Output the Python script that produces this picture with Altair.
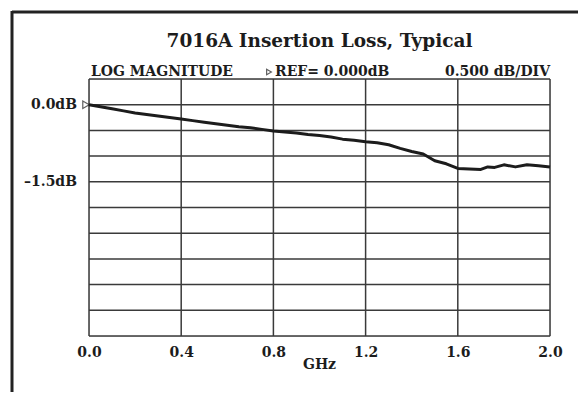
import altair as alt
import pandas as pd

# --- data ---
ghz = [0.00, 0.05, 0.10, 0.15, 0.20, 0.25, 0.30, 0.35, 0.40, 0.45, 0.50, 0.55,
       0.60, 0.65, 0.70, 0.75, 0.80, 0.85, 0.90, 0.95, 1.00, 1.05, 1.10, 1.15,
       1.20, 1.25, 1.30, 1.35, 1.40, 1.45, 1.50, 1.55, 1.60, 1.65, 1.70, 1.73,
       1.76, 1.80, 1.85, 1.90, 1.95, 2.00]
loss_db = [0.00, -0.04, -0.08, -0.12, -0.16, -0.19, -0.22, -0.25, -0.28, -0.31,
           -0.34, -0.37, -0.40, -0.43, -0.45, -0.48, -0.51, -0.53, -0.55, -0.58,
           -0.60, -0.63, -0.67, -0.69, -0.72, -0.74, -0.78, -0.85, -0.91, -0.96,
           -1.09, -1.15, -1.24, -1.25, -1.26, -1.21, -1.22, -1.17, -1.21, -1.17,
           -1.19, -1.21]

x_ticks = [0.0, 0.4, 0.8, 1.2, 1.6, 2.0]
y_grid = [0.5, 0.0, -0.5, -1.0, -1.5, -2.0, -2.5, -3.0, -3.5, -4.0, -4.5]
y_label_values = [0.0, -1.5]
y_label_texts = ["0.0dB", "\u20131.5dB"]

title_text = "7016A Insertion Loss, Typical"
header_left = "LOG MAGNITUDE"
header_mid = "REF= 0.000dB"
header_right = "0.500 dB/DIV"
x_title = "GHz"

FONT = "DejaVu Serif"
INK = "#1c1c1c"
GRID = "#3a3a3a"

W, H = 461, 257

df = pd.DataFrame({"ghz": ghz, "db": loss_db})
xs = alt.Scale(domain=[0, 2], nice=False, zero=False)
ys = alt.Scale(domain=[-4.5, 0.5], nice=False, zero=False)

hgrid = alt.Chart(pd.DataFrame({"db": y_grid})).mark_rule(
    color=GRID, strokeWidth=1.5
).encode(y=alt.Y("db:Q", scale=ys, axis=None))

vgrid = alt.Chart(pd.DataFrame({"ghz": x_ticks})).mark_rule(
    color=GRID, strokeWidth=1.5
).encode(x=alt.X("ghz:Q", scale=xs,
                 axis=alt.Axis(values=x_ticks, grid=False, ticks=False, domain=False,
                               title=None, labelFont=FONT, labelFontSize=14,
                               labelFontWeight="bold", labelColor=INK, labelPadding=9,
                               format=".1f", labelFlush=False)))

line = alt.Chart(df).mark_line(color=INK, strokeWidth=3, strokeJoin="round").encode(
    x=alt.X("ghz:Q", scale=xs),
    y=alt.Y("db:Q", scale=ys),
)

ylab_df = pd.DataFrame({"db": y_label_values, "label": y_label_texts})
ylabels = alt.Chart(ylab_df).mark_text(
    align="right", baseline="middle", font=FONT, fontSize=14, fontWeight="bold",
    color=INK
).encode(x=alt.value(-12), y=alt.Y("db:Q", scale=ys), text="label:N")

ref_df = pd.DataFrame({"db": [0.0]})
ref_marker = alt.Chart(ref_df).mark_point(
    shape="triangle-right", size=55, filled=False, color=INK, strokeWidth=1.2
).encode(x=alt.value(-3), y=alt.Y("db:Q", scale=ys))

def label(text, x, y, align, size=14):
    return alt.Chart(pd.DataFrame({"t": [text]})).mark_text(
        align=align, baseline="middle", font=FONT, fontSize=size,
        fontWeight="bold", color=INK
    ).encode(x=alt.value(x), y=alt.value(y), text="t:N")

title = label(title_text, W / 2, -38, "center", size=18.5)
hdr_left = label(header_left, 2, -7, "left")
hdr_mid = label(header_mid, 186, -7, "left")
hdr_right = label(header_right, W, -7, "right")
xtitle = label(x_title, W / 2, 286, "center")

hdr_tri = alt.Chart(pd.DataFrame({"t": [0]})).mark_point(
    shape="triangle-right", size=30, filled=False, color=INK, strokeWidth=1.2
).encode(x=alt.value(180), y=alt.value(-7))

frame_df = pd.DataFrame({"t": [0]})
frame_top = alt.Chart(frame_df).mark_rule(color="#222222", strokeWidth=3).encode(
    x=alt.value(-77), x2=alt.value(520), y=alt.value(-67))
frame_left = alt.Chart(frame_df).mark_rule(color="#222222", strokeWidth=3).encode(
    x=alt.value(-77), y=alt.value(-68), y2=alt.value(340))

chart = alt.layer(
    hgrid, vgrid, line, ylabels, ref_marker, title, hdr_left, hdr_tri, hdr_mid,
    hdr_right, xtitle, frame_top, frame_left
).properties(
    width=W, height=H,
    autosize=alt.AutoSizeParams(type="none"),
    padding={"left": 81, "top": 71, "right": 28, "bottom": 56},
).configure_view(
    stroke=GRID, strokeWidth=1.5
).configure(background="white")

chart.save("out.html", embed_options={"renderer": "svg", "actions": False})
